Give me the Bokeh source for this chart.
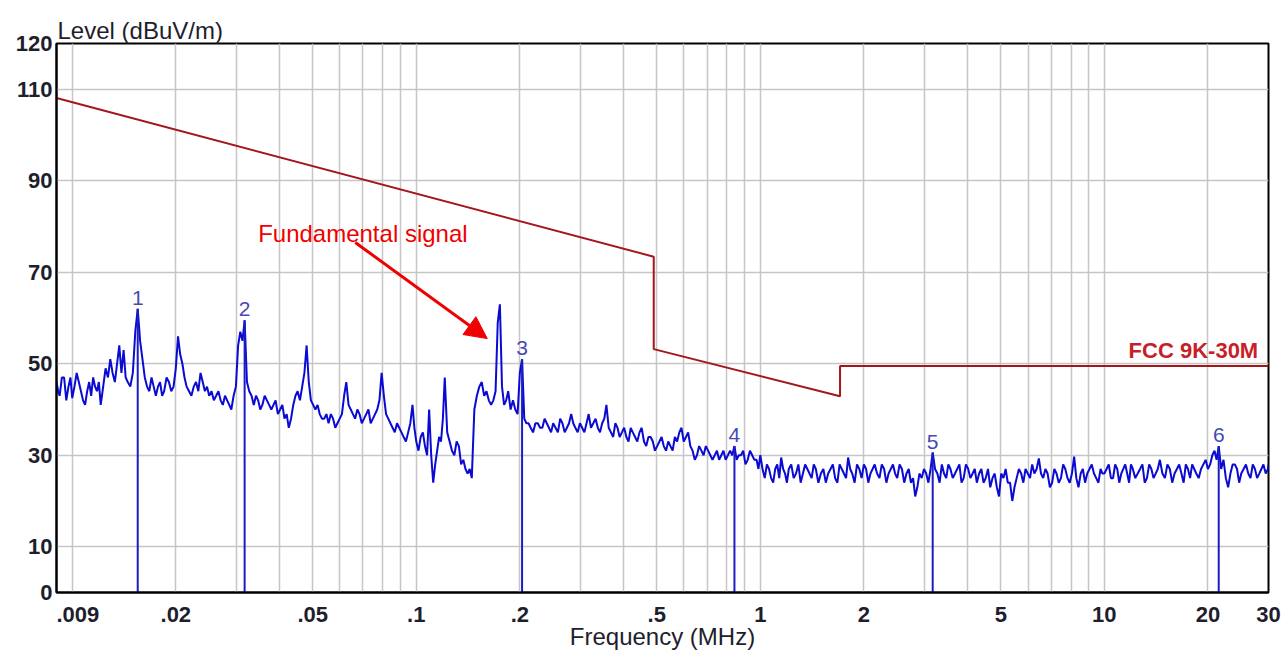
from bokeh.plotting import figure
from bokeh.models import FixedTicker, Label, Arrow, NormalHead, Range1d
from bokeh.embed import file_html
from bokeh.resources import INLINE
from bokeh.core.properties import value

# ---------------- data ----------------
# analyser sweep points: mantissas used in every decade (two interleaved sets)
sweep_mantissa = [1.00, 1.03, 1.06, 1.09, 1.12, 1.15, 1.18, 1.21, 1.25, 1.29,
                  1.33, 1.37, 1.41, 1.45, 1.50, 1.55, 1.60, 1.65, 1.70, 1.75,
                  1.80, 1.85, 1.91, 1.97, 2.03, 2.09, 2.15, 2.22, 2.29, 2.36,
                  2.43, 2.50, 2.58, 2.66, 2.74, 2.82, 2.90, 2.99, 3.08, 3.17,
                  3.27, 3.37, 3.47, 3.57, 3.68, 3.79, 3.90, 4.02, 4.14, 4.26,
                  4.39, 4.52, 4.66, 4.80, 4.94, 5.09, 5.24, 5.40, 5.56, 5.73,
                  5.90, 6.08, 6.26, 6.45, 6.64, 6.84, 7.05, 7.26, 7.48, 7.70,
                  7.93, 8.17, 8.41, 8.66, 8.92, 9.19, 9.47, 9.75]
sweep_mantissa_mid = [1.015, 1.045, 1.075, 1.105, 1.135, 1.165, 1.195, 1.23, 1.27, 1.31,
                      1.35, 1.39, 1.43, 1.475, 1.525, 1.575, 1.625, 1.675, 1.725, 1.775,
                      1.825, 1.88, 1.94, 2.00, 2.06, 2.12, 2.185, 2.255, 2.325, 2.395,
                      2.465, 2.54, 2.62, 2.70, 2.78, 2.86, 2.945, 3.035, 3.125, 3.22,
                      3.32, 3.42, 3.52, 3.625, 3.735, 3.845, 3.96, 4.08, 4.20, 4.325,
                      4.455, 4.59, 4.73, 4.87, 5.015, 5.165, 5.32, 5.48, 5.645, 5.815,
                      5.99, 6.17, 6.355, 6.545, 6.74, 6.945, 7.155, 7.37, 7.59, 7.815,
                      8.05, 8.29, 8.535, 8.79, 9.055, 9.33, 9.61, 9.875]

start_freqs = [0.0090, 0.0091, 0.00919, 0.00933, 0.00947, 0.00961, 0.00975, 0.00988]
start_levels = [46, 44, 43, 47, 47, 42, 45, 47]

levels_10k_100k = [42.5, 48, 44, 41, 46, 47, 44, 41, 49, 51,
                   46, 54, 53, 46, 48, 62, 51, 45, 47, 43,
                   46, 44, 46, 45, 56, 50, 45, 43, 46, 48,
                   44, 43, 42, 44, 41, 42, 40, 45, 57, 59.5,
                   44, 41, 42, 41, 42, 40, 42, 40, 38, 36,
                   41, 44, 45, 54, 42, 40, 39, 38, 37, 38,
                   37, 39, 46, 40, 38, 39, 38, 40, 38, 40,
                   48, 39, 37, 35, 36, 34, 35, 41]
levels_mid_10k_100k = [45, 46, 42, 44, 43, 45, 46, 45, 47, 48,
                       50, 48, 47, 45, 57, 55, 47, 44, 45, 45,
                       43, 47, 44, 49, 52, 47, 44, 45, 44, 46,
                       45, 44, 43, 42, 43, 41, 43, 54, 55, 46,
                       43, 43, 40, 43, 41, 41, 39, 41, 39, 38,
                       43, 42, 48, 46, 41, 41, 38, 39, 39, 36,
                       38, 43, 41, 39, 40, 37, 39, 37, 39, 42,
                       43, 38, 36, 37, 35, 33, 37, 36]

levels_100k_1M = [33, 34, 32, 40, 24, 31, 33, 47, 33, 30,
                  32, 29, 26, 25, 43, 46, 44, 41, 44, 63,
                  41, 44, 42, 39, 51, 37, 36, 37, 36, 38,
                  36, 37, 35, 37, 36, 39, 36, 37, 35, 39,
                  37, 36, 37, 41, 35, 37, 34, 36, 33, 35,
                  33, 36, 32, 34, 31, 33, 32, 33, 31, 33,
                  36, 34, 32, 29, 32, 30, 31, 29, 31, 30,
                  29, 31, 32, 30, 31, 29, 30, 29]
levels_mid_100k_1M = [31, 35, 30, 30, 28, 34, 38, 35, 31, 33,
                      28, 27, 27, 40, 45, 43, 42, 42, 59, 45,
                      42, 40, 40, 48, 38, 37, 35, 37, 36, 37,
                      35, 36, 38, 35, 37, 37, 35, 36, 37, 36,
                      38, 35, 38, 36, 34, 36, 35, 34, 36, 34,
                      35, 33, 34, 33, 32, 34, 31, 32, 34, 35,
                      33, 35, 31, 30, 31, 32, 30, 30, 29, 31,
                      30, 30, 29, 30, 28, 31, 29, 27]

levels_1M_10M = [30, 25, 27, 24, 28, 29.5, 26, 27, 25, 28,
                 26, 27, 25, 27, 26, 24, 27, 25, 28, 26,
                 29.5, 26, 28, 25, 27, 26, 28, 25, 27, 26,
                 28, 25, 27, 26, 24, 21, 26, 27, 24, 30.6,
                 26, 28, 25, 27, 26, 28, 25, 27, 26, 24,
                 27, 25, 23, 26, 21, 25, 24, 20, 25, 26,
                 27, 25, 26, 29.3, 25, 26, 24, 26, 25, 27,
                 24, 29.7, 23, 27, 26, 28, 25, 27]
levels_mid_1M_10M = [27, 28, 25, 27, 25, 27, 24, 28, 26, 24,
                     28, 26, 28, 24, 27, 26, 28, 24, 27, 25,
                     27, 24, 27, 28, 24, 27, 26, 28, 24, 27,
                     26, 28, 24, 27, 25, 23, 25, 26, 27, 27,
                     24, 26, 28, 25, 27, 24, 28, 25, 27, 26,
                     24, 27, 25, 23, 26, 27, 24, 23, 27, 24,
                     26, 28, 27, 26, 27, 23, 27, 24, 28, 25,
                     26, 25, 26, 24, 27, 26, 24, 26]

levels_10M_30M = [26, 28, 25, 27, 26, 28, 24, 27, 26, 28,
                  25, 27, 26, 29, 25, 27, 26, 28, 24, 27,
                  28, 26, 27, 29, 28, 31, 32, 29, 23, 28,
                  27, 26, 28, 25, 27, 26, 28, 27]
levels_mid_10M_30M = [27, 25, 28, 24, 27, 26, 28, 25, 27, 24,
                      28, 25, 27, 26, 28, 24, 27, 26, 28, 25,
                      27, 25, 28, 27, 30, 29, 27, 25, 26, 28,
                      24, 27, 26, 28, 25, 27, 26]
end_freq = 30.0
end_level = 28

# FCC 15.209 limit line
limit_freq = [0.009, 0.49, 0.49, 1.705, 1.705, 30.0]
limit_level = [108.1, 73.4, 53.2, 42.9, 49.5, 49.5]

# peak markers
marker_freq = [0.0155, 0.0317, 0.203, 0.841, 3.17, 21.5]
marker_level = [62, 59.5, 51, 32, 30.6, 32]
marker_label = ["1", "2", "3", "4", "5", "6"]

NB = "\u00a0"
x_tick_values = [0.009, 0.02, 0.05, 0.1, 0.2, 0.5, 1, 2, 5, 10, 20, 30]
x_tick_labels = [NB * 7 + ".009", ".02", ".05", ".1", ".2", ".5", "1", "2", "5", "10", "20", "30"]
y_tick_values = [0, 10, 30, 50, 70, 90, 110, 120]
y_grid_values = [10, 30, 50, 70, 90, 110]
x_grid_mult = [1, 2, 3, 4, 5, 6, 7, 8, 9]
x_grid_decades = [0.01, 0.1, 1]
x_grid_extra = [10, 20]

# ---------------- assemble trace ----------------
pts = list(zip(start_freqs, start_levels))
for dec, lv, lvm in [(0.01, levels_10k_100k, levels_mid_10k_100k),
                     (0.1, levels_100k_1M, levels_mid_100k_1M),
                     (1.0, levels_1M_10M, levels_mid_1M_10M),
                     (10.0, levels_10M_30M, levels_mid_10M_30M)]:
    pts += [(round(m * dec, 6), v) for m, v in zip(sweep_mantissa, lv)]
    pts += [(round(m * dec, 6), v) for m, v in zip(sweep_mantissa_mid, lvm)]
pts.append((end_freq, end_level))
pts.sort()
freqs = [f for f, _ in pts]
levels = [v for _, v in pts]

FONT = "Liberation Sans"
TXT = "#1e1e2c"

p = figure(width=1284, height=652, x_axis_type="log",
           x_range=Range1d(0.009, 30), y_range=Range1d(0, 120),
           output_backend="svg", toolbar_location=None,
           min_border_left=56, min_border_right=16,
           min_border_top=43, min_border_bottom=60)
p.background_fill_color = "white"
p.border_fill_color = "white"
p.outline_line_color = "black"
p.outline_line_width = 2
p.outline_line_alpha = 1.0

# title used as the y-axis caption above the frame
p.title.text = "Level (dBuV/m)"
p.title.align = "left"
p.title.offset = 1
p.title.standoff = 0
p.title.text_font = FONT
p.title.text_font_size = "24px"
p.title.text_font_style = "normal"
p.title.text_color = TXT

# axes
p.xaxis.ticker = FixedTicker(ticks=x_tick_values)
p.xaxis.major_label_overrides = {v: l for v, l in zip(x_tick_values, x_tick_labels)}
p.yaxis.ticker = FixedTicker(ticks=y_tick_values)
for ax in (p.xaxis, p.yaxis):
    ax.axis_line_color = "black"
    ax.axis_line_width = 2
    ax.major_tick_line_color = None
    ax.minor_tick_line_color = None
    ax.major_tick_out = 0
    ax.major_tick_in = 0
    ax.minor_tick_out = 0
    ax.minor_tick_in = 0
    ax.major_label_text_font = FONT
    ax.major_label_text_font_size = "22px"
    ax.major_label_text_font_style = "bold"
    ax.major_label_text_color = TXT
p.xaxis.major_label_standoff = 9
p.yaxis.major_label_standoff = 4
p.xaxis.axis_label = "Frequency (MHz)"
p.xaxis.axis_label_standoff = -7
p.xaxis.axis_label_text_font = FONT
p.xaxis.axis_label_text_font_size = "24px"
p.xaxis.axis_label_text_font_style = "normal"
p.xaxis.axis_label_text_color = TXT

# grids
p.xgrid.ticker = FixedTicker(ticks=[m * d for d in x_grid_decades for m in x_grid_mult] + x_grid_extra)
p.ygrid.ticker = FixedTicker(ticks=y_grid_values)
p.xgrid.grid_line_color = "#c6c6c6"
p.ygrid.grid_line_color = "#c6c6c6"
p.xgrid.grid_line_width = 1.5
p.ygrid.grid_line_width = 1.5

# limit line
p.line(limit_freq, limit_level, line_color="#a5161c", line_width=2)

# emission trace
p.line(freqs, levels, line_color="#0a0ad2", line_width=2)

# markers
p.segment(x0=marker_freq, y0=[0] * len(marker_freq), x1=marker_freq, y1=marker_level,
          line_color="#1c1cc4", line_width=2)
p.text(x=marker_freq, y=marker_level, text=marker_label, text_align="center",
       text_baseline="bottom", y_offset=-4, text_font=value(FONT),
       text_font_size="21px", text_color="#4848b4")

# annotations inside the frame
p.add_layout(Label(x=28.0, y=limit_level[-1], y_offset=3, text="FCC 9K-30M",
                   text_align="right", text_baseline="bottom", text_font=FONT,
                   text_font_size="22px", text_font_style="bold", text_color="#c81e28"))
p.add_layout(Label(x=0.0347, y=78.5, text="Fundamental signal",
                   text_baseline="alphabetic", text_font=FONT, text_font_size="24px",
                   text_color="#f00000"))
p.add_layout(Arrow(end=NormalHead(size=22, fill_color="#f00000", line_color="#f00000"),
                   x_start=0.0665, y_start=76.5, x_end=0.1608, y_end=55.5,
                   line_color="#f00000", line_width=3))

open("out.html", "w").write(file_html(p, INLINE))
